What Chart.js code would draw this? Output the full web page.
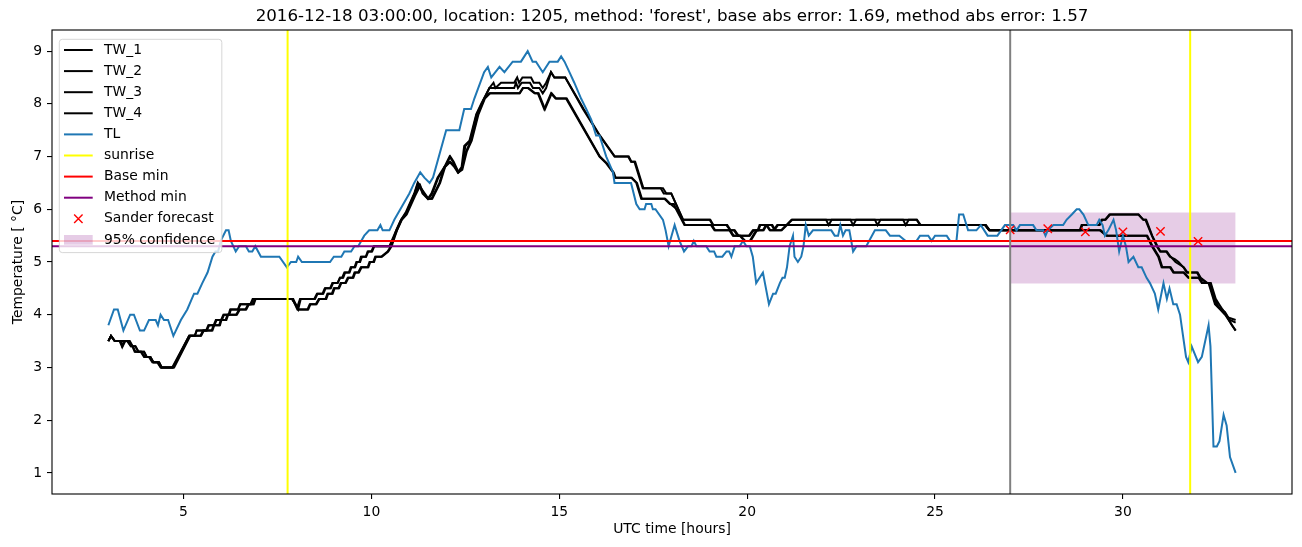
<!DOCTYPE html>
<html>
<head>
<meta charset="utf-8">
<script src="https://cdn.jsdelivr.net/npm/chart.js@4"></script>
<style>
  html, body { margin: 0; padding: 0; background: #fff; }
  canvas { display: block; }
</style>
</head>
<body>
<canvas id="chart" width="1302" height="547"></canvas>
<script>
const chartTitle = "2016-12-18 03:00:00, location: 1205, method: 'forest', base abs error: 1.69, method abs error: 1.57";
const xTicks = [5, 10, 15, 20, 25, 30];
const yTicks = [1, 2, 3, 4, 5, 6, 7, 8, 9];

// [hour, temperature]
const tl = [[3.0,3.8],[3.15,4.1],[3.25,4.1],[3.4,3.7],[3.58,4.0],[3.68,4.0],[3.84,3.7],[3.95,3.7],[4.08,3.9],[4.26,3.9],[4.32,3.8],[4.39,4.0],[4.48,3.9],[4.59,3.9],[4.73,3.6],[4.93,3.9],[5.1,4.1],[5.28,4.4],[5.37,4.4],[5.5,4.6],[5.64,4.8],[5.77,5.1],[5.85,5.2],[5.92,5.2],[5.99,5.4],[6.13,5.6],[6.2,5.6],[6.26,5.4],[6.39,5.2],[6.48,5.3],[6.66,5.3],[6.74,5.2],[6.83,5.2],[6.91,5.3],[7.06,5.1],[7.55,5.1],[7.75,4.9],[7.86,5.0],[8.0,5.0],[8.05,5.1],[8.15,5.0],[8.9,5.0],[9.0,5.1],[9.2,5.1],[9.28,5.2],[9.46,5.2],[9.55,5.3],[9.65,5.3],[9.81,5.5],[9.94,5.6],[10.16,5.6],[10.24,5.7],[10.3,5.6],[10.48,5.6],[10.61,5.8],[11.01,6.3],[11.14,6.5],[11.3,6.7],[11.41,6.6],[11.55,6.5],[11.64,6.6],[11.99,7.5],[12.34,7.5],[12.47,7.9],[12.65,7.9],[12.74,8.1],[13.0,8.6],[13.1,8.7],[13.19,8.5],[13.3,8.6],[13.41,8.7],[13.54,8.6],[13.76,8.8],[13.98,8.8],[14.16,9.0],[14.29,8.8],[14.38,8.8],[14.56,8.6],[14.74,8.8],[14.96,8.8],[15.05,8.9],[15.14,8.8],[15.27,8.6],[15.4,8.4],[15.58,8.1],[15.72,7.9],[15.85,7.7],[15.98,7.4],[16.07,7.4],[16.25,7.0],[16.43,6.7],[16.47,6.5],[16.91,6.5],[17.05,6.1],[17.14,6.0],[17.27,6.0],[17.31,6.1],[17.45,6.1],[17.49,6.0],[17.56,6.0],[17.76,5.8],[17.83,5.6],[17.91,5.3],[18.07,5.7],[18.2,5.4],[18.32,5.2],[18.43,5.3],[18.52,5.3],[18.58,5.4],[18.65,5.3],[18.91,5.3],[19.0,5.2],[19.12,5.2],[19.18,5.1],[19.34,5.1],[19.45,5.2],[19.52,5.2],[19.58,5.1],[19.67,5.3],[19.8,5.3],[19.89,5.4],[19.98,5.3],[20.07,5.3],[20.15,5.1],[20.24,4.6],[20.42,4.8],[20.58,4.2],[20.69,4.4],[20.76,4.4],[20.87,4.6],[20.94,4.7],[21.0,4.7],[21.06,4.9],[21.13,5.3],[21.22,5.5],[21.26,5.1],[21.35,5.0],[21.44,5.1],[21.5,5.3],[21.56,5.7],[21.64,5.5],[21.75,5.6],[22.24,5.6],[22.33,5.5],[22.42,5.5],[22.48,5.7],[22.55,5.5],[22.62,5.6],[22.72,5.6],[22.82,5.2],[22.91,5.3],[23.17,5.3],[23.4,5.6],[23.69,5.6],[23.8,5.5],[24.05,5.5],[24.22,5.4],[24.51,5.4],[24.6,5.5],[24.82,5.5],[24.91,5.4],[25.0,5.5],[25.31,5.5],[25.4,5.4],[25.57,5.4],[25.64,5.9],[25.75,5.9],[25.88,5.6],[26.1,5.6],[26.22,5.7],[26.4,5.5],[26.66,5.5],[26.86,5.7],[27.08,5.7],[27.17,5.6],[27.26,5.7],[27.61,5.7],[27.7,5.6],[27.88,5.6],[27.94,5.5],[28.0,5.6],[28.15,5.7],[28.41,5.7],[28.5,5.8],[28.64,5.9],[28.77,6.0],[28.84,6.0],[28.95,5.9],[29.08,5.7],[29.3,5.7],[29.37,5.8],[29.46,5.7],[29.52,5.5],[29.61,5.6],[29.75,5.8],[29.82,5.6],[29.9,5.2],[30.0,5.5],[30.08,5.3],[30.15,5.0],[30.28,5.1],[30.41,4.9],[30.5,4.9],[30.63,4.7],[30.72,4.6],[30.85,4.4],[30.94,4.1],[31.08,4.6],[31.17,4.3],[31.24,4.5],[31.34,4.2],[31.43,4.2],[31.52,4.0],[31.6,3.6],[31.68,3.2],[31.74,3.1],[31.83,3.4],[32.0,3.1],[32.1,3.2],[32.28,3.8],[32.33,3.4],[32.41,1.5],[32.5,1.5],[32.57,1.6],[32.68,2.1],[32.76,1.9],[32.85,1.3],[33.0,1.0]];

const tw1 = [[3.0,3.5],[3.07,3.6],[3.17,3.5],[3.5,3.5],[3.6,3.4],[3.72,3.4],[3.8,3.3],[3.95,3.3],[4.02,3.2],[4.12,3.2],[4.2,3.1],[4.35,3.1],[4.42,3.0],[4.72,3.0],[5.15,3.6],[5.3,3.6],[5.35,3.7],[5.62,3.7],[5.68,3.8],[5.8,3.8],[5.86,3.9],[6.0,3.9],[6.06,4.0],[6.2,4.0],[6.24,4.1],[6.45,4.1],[6.5,4.2],[6.78,4.2],[6.84,4.3],[7.88,4.3],[8.03,4.15],[8.1,4.3],[8.48,4.3],[8.55,4.4],[8.7,4.4],[8.76,4.5],[8.9,4.5],[8.96,4.6],[9.1,4.6],[9.16,4.7],[9.22,4.7],[9.28,4.8],[9.4,4.8],[9.45,4.9],[9.55,4.9],[9.6,5.0],[9.68,5.0],[9.72,5.1],[9.85,5.1],[9.9,5.2],[10.0,5.2],[10.06,5.3],[10.48,5.3],[10.66,5.6],[10.79,5.8],[10.92,5.95],[11.14,6.3],[11.23,6.5],[11.3,6.4],[11.5,6.2],[11.6,6.3],[11.76,6.6],[11.94,6.8],[12.08,7.0],[12.17,6.9],[12.3,6.7],[12.4,6.8],[12.47,7.2],[12.61,7.3],[12.79,7.8],[12.92,8.0],[13.14,8.3],[13.25,8.4],[13.3,8.3],[13.45,8.4],[13.8,8.4],[13.88,8.5],[13.93,8.4],[14.02,8.5],[14.25,8.5],[14.32,8.4],[14.47,8.4],[14.56,8.3],[14.65,8.4],[14.78,8.6],[14.87,8.5],[15.16,8.5],[15.63,7.9],[16.07,7.4],[16.47,7.0],[16.83,7.0],[16.91,6.9],[17.0,6.9],[17.22,6.4],[17.76,6.4],[17.85,6.3],[17.98,6.3],[18.29,5.8],[19.0,5.8],[19.09,5.7],[19.45,5.7],[19.55,5.6],[19.65,5.6],[19.75,5.5],[20.05,5.5],[20.15,5.6],[20.28,5.6],[20.33,5.7],[20.51,5.7],[20.6,5.6],[20.7,5.6],[20.8,5.7],[21.04,5.7],[21.18,5.8],[24.51,5.8],[24.6,5.7],[26.33,5.7],[26.44,5.6],[28.85,5.6],[28.9,5.7],[29.37,5.7],[29.43,5.8],[29.52,5.8],[29.64,5.9],[30.41,5.9],[30.54,5.8],[30.6,5.8],[30.77,5.5],[30.9,5.3],[30.99,5.2],[31.15,5.2],[31.25,5.1],[31.39,5.05],[31.48,5.0],[31.61,4.9],[31.7,4.8],[31.97,4.8],[32.05,4.7],[32.23,4.6],[32.32,4.6],[32.45,4.3],[32.54,4.15],[32.63,4.1],[32.72,4.05],[32.8,3.95],[33.0,3.9]];

const tw2 = [[3.0,3.5],[3.07,3.6],[3.17,3.5],[3.33,3.5],[3.37,3.4],[3.42,3.5],[3.52,3.5],[3.6,3.4],[3.72,3.4],[3.8,3.3],[3.95,3.3],[4.02,3.2],[4.12,3.2],[4.2,3.1],[4.35,3.1],[4.42,3.0],[4.75,3.0],[5.18,3.6],[5.3,3.6],[5.35,3.7],[5.6,3.7],[5.66,3.8],[5.82,3.8],[5.88,3.9],[6.02,3.9],[6.08,4.0],[6.22,4.0],[6.26,4.1],[6.45,4.1],[6.52,4.2],[6.8,4.2],[6.86,4.3],[7.9,4.3],[8.05,4.1],[8.12,4.3],[8.5,4.3],[8.57,4.4],[8.72,4.4],[8.78,4.5],[8.92,4.5],[8.98,4.6],[9.1,4.6],[9.17,4.7],[9.25,4.7],[9.3,4.8],[9.42,4.8],[9.47,4.9],[9.57,4.9],[9.62,5.0],[9.7,5.0],[9.75,5.1],[9.86,5.1],[9.92,5.2],[10.02,5.2],[10.08,5.3],[10.5,5.3],[10.68,5.6],[10.8,5.8],[10.94,5.95],[11.15,6.3],[11.24,6.5],[11.32,6.4],[11.52,6.2],[11.62,6.3],[11.78,6.6],[11.96,6.8],[12.1,7.0],[12.19,6.9],[12.32,6.7],[12.42,6.8],[12.5,7.2],[12.63,7.3],[12.8,7.8],[12.94,8.0],[13.14,8.3],[13.8,8.3],[13.85,8.4],[13.9,8.3],[14.0,8.4],[14.22,8.4],[14.3,8.3],[14.47,8.3],[14.56,8.2],[14.65,8.3],[14.78,8.6],[14.87,8.5],[15.16,8.5],[15.65,7.9],[16.08,7.4],[16.48,7.0],[16.85,7.0],[16.92,6.9],[17.02,6.9],[17.24,6.4],[17.7,6.4],[17.78,6.3],[17.98,6.3],[18.3,5.8],[19.02,5.8],[19.1,5.7],[19.47,5.7],[19.56,5.6],[19.67,5.6],[19.77,5.5],[20.07,5.5],[20.17,5.6],[20.3,5.6],[20.35,5.7],[20.52,5.7],[20.62,5.6],[20.72,5.6],[20.82,5.7],[21.06,5.7],[21.2,5.8],[22.1,5.8],[22.17,5.7],[22.25,5.8],[22.75,5.8],[22.82,5.7],[22.9,5.8],[23.4,5.8],[23.47,5.7],[23.55,5.8],[24.15,5.8],[24.22,5.7],[24.3,5.8],[24.52,5.8],[24.62,5.7],[26.35,5.7],[26.45,5.6],[28.87,5.6],[28.92,5.7],[29.38,5.7],[29.45,5.8],[29.54,5.8],[29.66,5.9],[30.42,5.9],[30.55,5.8],[30.62,5.8],[30.78,5.5],[30.92,5.3],[31.0,5.2],[31.17,5.2],[31.27,5.1],[31.4,5.0],[31.62,4.9],[31.72,4.8],[31.99,4.8],[32.07,4.7],[32.25,4.6],[32.34,4.6],[32.47,4.3],[32.56,4.2],[32.65,4.1],[32.75,4.0],[32.85,3.9],[33.0,3.85]];

const tw3 = [[3.0,3.5],[3.07,3.6],[3.17,3.5],[3.32,3.5],[3.38,3.4],[3.45,3.5],[3.55,3.5],[3.64,3.4],[3.7,3.3],[3.86,3.3],[3.95,3.2],[4.08,3.2],[4.17,3.1],[4.3,3.1],[4.39,3.0],[4.7,3.0],[5.15,3.6],[5.45,3.6],[5.52,3.7],[5.75,3.7],[5.8,3.8],[5.95,3.8],[5.99,3.9],[6.12,3.9],[6.17,4.0],[6.4,4.0],[6.48,4.1],[6.65,4.1],[6.72,4.2],[6.85,4.2],[6.9,4.3],[7.9,4.3],[8.03,4.1],[8.3,4.1],[8.36,4.2],[8.52,4.2],[8.6,4.3],[8.78,4.3],[8.83,4.4],[8.95,4.4],[9.0,4.5],[9.12,4.5],[9.18,4.6],[9.3,4.6],[9.37,4.7],[9.5,4.7],[9.55,4.8],[9.65,4.8],[9.72,4.9],[9.9,4.9],[9.95,5.0],[10.05,5.0],[10.1,5.1],[10.26,5.1],[10.43,5.2],[10.52,5.3],[10.66,5.6],[10.79,5.8],[10.92,5.9],[11.14,6.27],[11.28,6.46],[11.36,6.3],[11.5,6.2],[11.6,6.2],[11.81,6.5],[11.94,6.8],[12.08,6.9],[12.21,6.8],[12.3,6.7],[12.4,6.75],[12.52,7.1],[12.65,7.3],[12.83,7.8],[13.0,8.1],[13.14,8.2],[13.94,8.2],[14.03,8.3],[14.16,8.3],[14.34,8.2],[14.43,8.2],[14.6,7.9],[14.78,8.2],[14.9,8.1],[15.18,8.1],[16.07,7.0],[16.25,6.87],[16.43,6.7],[16.47,6.6],[16.91,6.6],[17.05,6.5],[17.18,6.2],[17.8,6.2],[17.94,6.1],[18.05,6.1],[18.11,6.0],[18.33,5.7],[19.04,5.7],[19.13,5.6],[19.53,5.6],[19.62,5.5],[19.8,5.5],[19.93,5.4],[20.07,5.4],[20.24,5.6],[20.42,5.6],[20.5,5.7],[20.65,5.7],[20.73,5.6],[20.9,5.6],[21.04,5.7],[26.33,5.7],[26.44,5.6],[29.39,5.6],[29.56,5.5],[30.63,5.5],[30.77,5.3],[30.94,5.1],[31.03,4.9],[31.25,4.9],[31.34,4.8],[31.61,4.8],[31.74,4.7],[32.01,4.7],[32.1,4.6],[32.28,4.6],[32.45,4.2],[32.59,4.1],[32.72,4.0],[33.0,3.7]];

const tw4 = [[3.0,3.5],[3.07,3.6],[3.17,3.5],[3.3,3.5],[3.36,3.4],[3.44,3.5],[3.57,3.5],[3.65,3.4],[3.72,3.3],[3.88,3.3],[3.97,3.2],[4.1,3.2],[4.19,3.1],[4.32,3.1],[4.4,3.0],[4.72,3.0],[5.17,3.6],[5.47,3.6],[5.54,3.7],[5.77,3.7],[5.82,3.8],[5.97,3.8],[6.01,3.9],[6.14,3.9],[6.19,4.0],[6.42,4.0],[6.5,4.1],[6.67,4.1],[6.74,4.2],[6.87,4.2],[6.92,4.3],[7.92,4.3],[8.05,4.1],[8.32,4.1],[8.38,4.2],[8.54,4.2],[8.62,4.3],[8.8,4.3],[8.85,4.4],[8.97,4.4],[9.02,4.5],[9.14,4.5],[9.2,4.6],[9.32,4.6],[9.39,4.7],[9.52,4.7],[9.57,4.8],[9.67,4.8],[9.74,4.9],[9.92,4.9],[9.97,5.0],[10.07,5.0],[10.12,5.1],[10.28,5.1],[10.45,5.2],[10.54,5.3],[10.68,5.6],[10.81,5.8],[10.94,5.9],[11.16,6.25],[11.3,6.45],[11.38,6.3],[11.52,6.2],[11.62,6.2],[11.83,6.5],[11.96,6.8],[12.1,6.9],[12.23,6.8],[12.32,6.7],[12.42,6.75],[12.54,7.1],[12.67,7.3],[12.85,7.8],[13.02,8.1],[13.16,8.2],[13.95,8.2],[14.04,8.3],[14.18,8.3],[14.36,8.2],[14.45,8.2],[14.62,7.9],[14.8,8.2],[14.92,8.1],[15.2,8.1],[16.08,7.0],[16.27,6.87],[16.45,6.7],[16.5,6.6],[16.93,6.6],[17.07,6.5],[17.2,6.2],[17.82,6.2],[17.96,6.1],[18.13,6.0],[18.35,5.7],[19.06,5.7],[19.15,5.6],[19.55,5.6],[19.64,5.5],[19.82,5.5],[19.95,5.4],[20.09,5.4],[20.26,5.6],[20.44,5.6],[20.52,5.7],[20.67,5.7],[20.75,5.6],[20.92,5.6],[21.06,5.7],[26.35,5.7],[26.46,5.6],[29.41,5.6],[29.58,5.5],[30.65,5.5],[30.79,5.3],[30.96,5.1],[31.05,4.9],[31.27,4.9],[31.36,4.8],[31.63,4.8],[31.76,4.7],[32.03,4.7],[32.12,4.6],[32.3,4.6],[32.47,4.2],[32.61,4.1],[32.74,4.0],[32.9,3.8],[33.0,3.7]];

const sunriseHours = [7.77, 31.79];
const forecastHour = 27.0;
const baseMin = 5.4;
const methodMin = 5.3;
const sanderHours = [27, 28, 29, 30, 31, 32];
const sanderTemps = [5.61, 5.63, 5.57, 5.57, 5.58, 5.39];
const confHours = [27, 33];
const confLow = 4.59;
const confHigh = 5.94;

const xMin = 1.5, xMax = 34.5, yMin = 0.6, yMax = 9.4;
const legendOrder = ['TW_1', 'TW_2', 'TW_3', 'TW_4', 'TL', 'sunrise', 'Base min', 'Method min', 'Sander forecast', '95% confidence'];

const FONT = '"DejaVu Sans", sans-serif';
const pts = arr => arr.map(([x, y]) => ({ x: x, y: y }));

function lineSet(label, data, color, order) {
  return {
    label: label, data: data, borderColor: color, backgroundColor: color,
    borderWidth: 2, pointRadius: 0, fill: false, tension: 0, order: order
  };
}

const datasets = [
  {
    label: '95% confidence',
    data: confHours.map(h => ({ x: h, y: confHigh })),
    borderWidth: 0, pointRadius: 0, backgroundColor: 'rgba(128,0,128,0.2)',
    borderColor: 'rgba(0,0,0,0)', fill: { value: confLow }, order: 30
  },
  lineSet('TW_1', pts(tw1), '#000000', 20),
  lineSet('TW_2', pts(tw2), '#000000', 19),
  lineSet('TW_3', pts(tw3), '#000000', 18),
  lineSet('TW_4', pts(tw4), '#000000', 17),
  lineSet('TL', pts(tl), '#1f77b4', 16),
  lineSet('sunrise', [{ x: sunriseHours[0], y: yMin }, { x: sunriseHours[0], y: yMax }], '#ffff00', 15),
  lineSet('sunrise', [{ x: sunriseHours[1], y: yMin }, { x: sunriseHours[1], y: yMax }], '#ffff00', 14),
  lineSet('Base min', [{ x: xMin, y: baseMin }, { x: xMax, y: baseMin }], '#ff0000', 13),
  lineSet('Method min', [{ x: xMin, y: methodMin }, { x: xMax, y: methodMin }], '#800080', 12),
  {
    label: 'Sander forecast',
    data: sanderHours.map((h, i) => ({ x: h, y: sanderTemps[i] })),
    showLine: false, pointStyle: 'crossRot', pointRadius: 5.9, pointBorderWidth: 1.4,
    borderColor: '#ff0000', backgroundColor: '#ff0000', order: 11
  },
  lineSet('', [{ x: forecastHour, y: yMin }, { x: forecastHour, y: yMax }], '#808080', 10)
];

const decorations = {
  id: 'decorations',
  afterDraw(chart) {
    const ctx = chart.ctx;
    const a = chart.chartArea;
    ctx.save();

    ctx.fillStyle = '#000';
    ctx.font = '16.7px ' + FONT;
    ctx.textAlign = 'center';
    ctx.textBaseline = 'middle';
    ctx.fillText(chartTitle, (a.left + a.right) / 2, 17);

    ctx.strokeStyle = '#000';
    ctx.lineWidth = 1.1;
    ctx.strokeRect(a.left, a.top, a.right - a.left, a.bottom - a.top);

    // legend box, upper left
    ctx.font = '13.9px ' + FONT;
    const items = legendOrder.map(l => chart.data.datasets.find(d => d.label === l));
    const bx = a.left + 7.3, by = a.top + 9.3;
    const rowH = 21.1;
    const textW = Math.max(...items.map(d => ctx.measureText(d.label).width));
    const bw = 44.7 + textW + 6.5;
    const bh = 10.7 + rowH * (items.length - 1) + 12.7;
    const r = 3;
    ctx.beginPath();
    ctx.moveTo(bx + r, by);
    ctx.arcTo(bx + bw, by, bx + bw, by + bh, r);
    ctx.arcTo(bx + bw, by + bh, bx, by + bh, r);
    ctx.arcTo(bx, by + bh, bx, by, r);
    ctx.arcTo(bx, by, bx + bw, by, r);
    ctx.closePath();
    ctx.fillStyle = 'rgba(255,255,255,0.8)';
    ctx.fill();
    ctx.strokeStyle = 'rgba(204,204,204,0.8)';
    ctx.lineWidth = 1;
    ctx.stroke();

    items.forEach((d, i) => {
      const y = by + 10.7 + i * rowH;
      const x1 = bx + 4.7, x2 = bx + 33.4;
      if (d.showLine === false) {
        const cx = (x1 + x2) / 2, s = 4.2;
        ctx.strokeStyle = d.borderColor;
        ctx.lineWidth = 1.4;
        ctx.beginPath();
        ctx.moveTo(cx - s, y - s); ctx.lineTo(cx + s, y + s);
        ctx.moveTo(cx - s, y + s); ctx.lineTo(cx + s, y - s);
        ctx.stroke();
      } else if (d.fill) {
        ctx.fillStyle = d.backgroundColor;
        ctx.fillRect(x1, y - 4.9, x2 - x1, 9.7);
      } else {
        ctx.strokeStyle = d.borderColor;
        ctx.lineWidth = 2;
        ctx.beginPath();
        ctx.moveTo(x1, y); ctx.lineTo(x2, y);
        ctx.stroke();
      }
      ctx.fillStyle = '#000';
      ctx.textAlign = 'left';
      ctx.textBaseline = 'middle';
      ctx.fillText(d.label, bx + 44.7, y);
    });
    ctx.restore();
  }
};

new Chart(document.getElementById('chart'), {
  type: 'line',
  data: { datasets: datasets },
  options: {
    responsive: false,
    animation: false,
    events: [],
    layout: { padding: { left: 0, right: 10, top: 30, bottom: 0 } },
    plugins: { legend: { display: false }, title: { display: false }, tooltip: { enabled: false } },
    scales: {
      x: {
        type: 'linear', min: xMin, max: xMax,
        afterBuildTicks: s => { s.ticks = xTicks.map(v => ({ value: v })); },
        afterFit: s => { s.height = 53; },
        ticks: { color: '#000', font: { family: FONT, size: 13.9 }, padding: 5, maxRotation: 0, callback: v => String(v) },
        grid: { display: true, drawOnChartArea: false, drawTicks: true, tickLength: 5, color: '#000', lineWidth: 1.1 },
        border: { display: false },
        title: { display: true, text: 'UTC time [hours]', color: '#000', font: { family: FONT, size: 13.9 }, padding: { top: 0, bottom: 9.7 } }
      },
      y: {
        type: 'linear', min: yMin, max: yMax,
        afterBuildTicks: s => { s.ticks = yTicks.map(v => ({ value: v })); },
        afterFit: s => { s.width = 52; },
        ticks: { color: '#000', font: { family: FONT, size: 13.9 }, padding: 5, callback: v => String(v) },
        grid: { display: true, drawOnChartArea: false, drawTicks: true, tickLength: 5, color: '#000', lineWidth: 1.1 },
        border: { display: false },
        title: { display: true, text: 'Temperature [ °C]', color: '#000', font: { family: FONT, size: 13.9 }, padding: { top: 9.7, bottom: 0 } }
      }
    }
  },
  plugins: [decorations]
});
</script>
</body>
</html>
